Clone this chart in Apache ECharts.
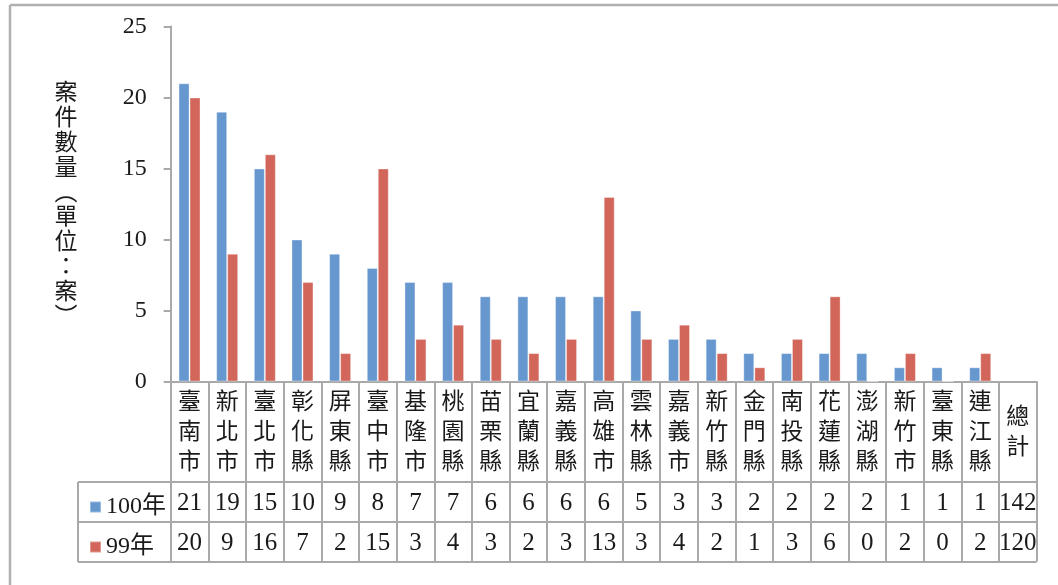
<!DOCTYPE html>
<html>
<head>
<meta charset="utf-8">
<script src="https://cdn.jsdelivr.net/npm/echarts@6/dist/echarts.min.js"></script>
<style>
  html, body { margin: 0; padding: 0; background: #fff; }
  #chart { width: 1058px; height: 585px; }
</style>
</head>
<body>
<div id="chart"></div>
<script>
// 各縣市案件數量（100年 vs 99年）
const categories = ['臺南市', '新北市', '臺北市', '彰化縣', '屏東縣', '臺中市', '基隆市', '桃園縣',
  '苗栗縣', '宜蘭縣', '嘉義縣', '高雄市', '雲林縣', '嘉義市', '新竹縣', '金門縣', '南投縣',
  '花蓮縣', '澎湖縣', '新竹市', '臺東縣', '連江縣', '總計'];
const seriesNames = ['100年', '99年'];
const cases100 = [21, 19, 15, 10, 9, 8, 7, 7, 6, 6, 6, 6, 5, 3, 3, 2, 2, 2, 2, 1, 1, 1];
const cases99 = [20, 9, 16, 7, 2, 15, 3, 4, 3, 2, 3, 13, 3, 4, 2, 1, 3, 6, 0, 2, 0, 2];
const totals = [142, 120];
const yAxisTitle = '案件數量︵單位：案︶';

const FONT = "'Liberation Serif', 'Noto Sans CJK TC', serif";
const GRAY = '#a9a9a9';
const BLUE = '#6797cf';
const RED = '#d2665a';

const chart = echarts.init(document.getElementById('chart'));

const option = {
  animation: false,
  textStyle: { fontFamily: FONT, color: '#1a1a1a' },
  grid: { left: 170.7, right: 21.3, top: 26.5, bottom: 203.5 },
  legend: {
    orient: 'vertical',
    left: 84, top: 488,
    itemWidth: 11, itemHeight: 11, itemGap: 12,
    icon: 'rect',
    data: seriesNames,
    textStyle: { fontFamily: FONT, fontSize: 24, lineHeight: 28, color: '#1a1a1a' }
  },
  xAxis: {
    type: 'category',
    data: categories,
    axisLine: { lineStyle: { color: GRAY, width: 2 } },
    axisTick: { show: true, interval: 0, length: 180, lineStyle: { color: GRAY, width: 2 } },
    axisLabel: {
      interval: 0,
      margin: 51,
      verticalAlign: 'middle',
      fontFamily: FONT,
      fontSize: 23,
      lineHeight: 30,
      color: '#1a1a1a',
      formatter: v => v.split('').join('\n')
    }
  },
  yAxis: {
    type: 'value',
    min: 0, max: 25, interval: 5,
    axisLine: { show: true, lineStyle: { color: GRAY, width: 2 } },
    axisTick: { show: true, length: 7, lineStyle: { color: GRAY, width: 2 } },
    splitLine: { show: false },
    axisLabel: { margin: 24, fontFamily: FONT, fontSize: 24, color: '#1a1a1a' }
  },
  series: [
    {
      name: seriesNames[0], type: 'bar', data: cases100,
      barWidth: 11, barGap: '0%',
      itemStyle: { color: BLUE, borderColor: 'rgba(255,255,255,0.35)', borderWidth: 1 }
    },
    {
      name: seriesNames[1], type: 'bar', data: cases99,
      barWidth: 11, barGap: '0%',
      itemStyle: { color: RED, borderColor: 'rgba(255,255,255,0.35)', borderWidth: 1 }
    }
  ]
};
chart.setOption(option);

// Data table under the axis, plus frame and vertical axis title
const rowTop = 482, rowH = 40, tableLeft = 78;
const tableRight = chart.convertToPixel({ xAxisIndex: 0 }, categories.length - 1) + 18.8;
const rows = [cases100.concat([totals[0]]), cases99.concat([totals[1]])];
const elements = [];
const hline = (y, x1, x2) => ({
  type: 'line', shape: { x1, y1: y, x2, y2: y }, style: { stroke: GRAY, lineWidth: 2 }, z: 5
});
for (let r = 0; r <= 2; r++) elements.push(hline(rowTop + r * rowH, tableLeft, tableRight));
elements.push({
  type: 'line', shape: { x1: tableLeft, y1: rowTop, x2: tableLeft, y2: rowTop + 2 * rowH },
  style: { stroke: GRAY, lineWidth: 2 }, z: 5
});
rows.forEach((vals, r) => {
  vals.forEach((v, i) => {
    const cx = chart.convertToPixel({ xAxisIndex: 0 }, i);
    elements.push({
      type: 'text', x: cx, y: rowTop + r * rowH + rowH / 2 + 1, z: 6,
      style: { text: String(v), fontFamily: FONT, fontSize: 25, fill: '#1a1a1a', align: 'center', verticalAlign: 'middle' }
    });
  });
});
// outer frame
elements.push({ type: 'line', shape: { x1: 10, y1: 5, x2: 1058, y2: 5 }, style: { stroke: '#b0b0b0', lineWidth: 2.5 } });
elements.push({ type: 'line', shape: { x1: 10, y1: 5, x2: 10, y2: 585 }, style: { stroke: '#b0b0b0', lineWidth: 2.5 } });
// vertical axis title
elements.push({
  type: 'text', x: 66, y: 82, z: 6,
  style: {
    text: yAxisTitle.split('').join('\n'), fontFamily: FONT, fontSize: 23, lineHeight: 24.8,
    fill: '#1a1a1a', align: 'center', verticalAlign: 'top'
  }
});
chart.setOption({ graphic: elements });
</script>
</body>
</html>
